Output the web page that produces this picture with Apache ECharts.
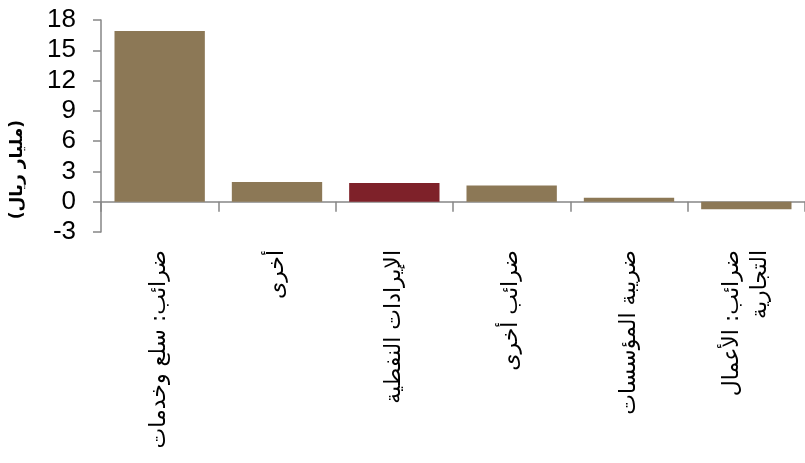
<!DOCTYPE html>
<html><head><meta charset="utf-8">
<script src="https://cdn.jsdelivr.net/npm/echarts@6/dist/echarts.min.js"></script>
<style>html,body{margin:0;padding:0;background:#fff}#c{width:805px;height:463px}</style>
</head><body><div id="c"></div>
<script>
const categories = ["ضرائب: سلع وخدمات", "أخرى", "الإيرادات النفطية", "ضرائب أخرى", "ضريبة المؤسسات", "ضرائب: الأعمال\nالتجارية"];
const values = [16.9, 1.95, 1.85, 1.6, 0.4, -0.75];
const barColors = ["#8C7856", "#8C7856", "#7E2129", "#8C7856", "#8C7856", "#8C7856"];
const yTicks = { min: -3, max: 18, interval: 3 };
const yName = "(مليار ريال)";

const chart = echarts.init(document.getElementById('c'));
chart.setOption({
  animation: false,
  grid: { left: 101, width: 711, top: 20, height: 212, containLabel: false },
  xAxis: {
    type: 'category', data: categories,
    axisLine: { onZero: true, lineStyle: { color: '#868686', width: 1.5 } },
    axisTick: { show: true, length: 10, lineStyle: { color: '#868686', width: 1.5 } },
    axisLabel: { rotate: 90, margin: 18, interval: 0, color: '#000', fontSize: 22, fontFamily: 'DejaVu Sans, Liberation Sans', lineHeight: 28 }
  },
  yAxis: {
    type: 'value', min: yTicks.min, max: yTicks.max, interval: yTicks.interval,
    splitLine: { show: false },
    axisLine: { show: true, lineStyle: { color: '#868686', width: 1.5 } },
    axisTick: { show: true, length: 8, lineStyle: { color: '#868686', width: 1.5 } },
    axisLabel: { color: '#000', fontSize: 26, margin: 25, fontFamily: 'Liberation Sans, Arial' }
  },
  graphic: [{
    type: 'text', left: 9, top: 120, rotation: Math.PI / 2,
    style: { text: yName, fontSize: 17, fontWeight: 'bold', fill: '#000', fontFamily: 'DejaVu Sans, Liberation Sans' }
  }],
  series: [{
    type: 'bar', barCategoryGap: '23%',
    data: values.map((v, i) => ({ value: v, itemStyle: { color: barColors[i] } }))
  }]
});
</script></body></html>
